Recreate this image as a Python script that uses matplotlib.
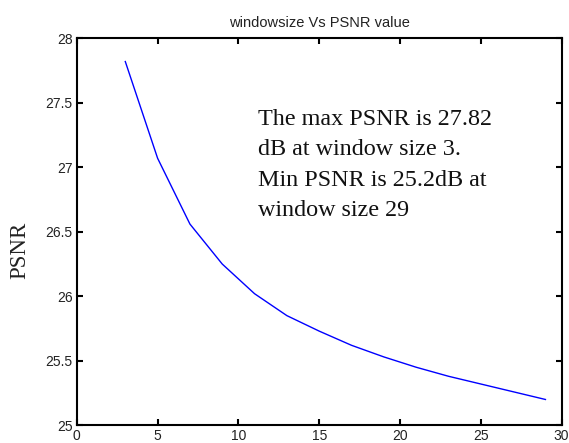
import numpy as np
import matplotlib
matplotlib.use("Agg")
import matplotlib.pyplot as plt

# window sizes and PSNR
window_size = [3, 5, 7, 9, 11, 13, 15, 17, 19, 21, 23, 25, 27, 29]
psnr = [27.82, 27.07, 26.56, 26.25, 26.02, 25.85, 25.73, 25.62, 25.53, 25.45, 25.38, 25.32, 25.26, 25.20]

x_ticks = [0, 5, 10, 15, 20, 25, 30]
y_ticks = [25, 25.5, 26, 26.5, 27, 27.5, 28]
y_tick_labels = ["25", "25.5", "26", "26.5", "27", "27.5", "28"]

note = ("The max PSNR is 27.82\n"
        "dB at window size 3.\n"
        "Min PSNR is 25.2dB at\n"
        "window size 29")

fig = plt.figure(figsize=(5.69, 4.43), dpi=100)
ax = fig.add_axes([0.135, 0.04, 0.852, 0.8735])

ax.plot(window_size, psnr, color="#0000ff", linewidth=1.0)

ax.set_xlim(0, 30)
ax.set_ylim(25, 28)
ax.set_xticks(x_ticks)
ax.set_yticks(y_ticks)
ax.set_yticklabels(y_tick_labels)

for side in ["left", "right", "top", "bottom"]:
    ax.spines[side].set_linewidth(1.5)
    ax.spines[side].set_color("black")

ax.tick_params(direction="in", length=4, width=1.5, top=True, right=True,
               labelsize=10, labelcolor="#222222", pad=3)
for lbl in ax.get_xticklabels() + ax.get_yticklabels():
    lbl.set_family("Liberation Sans")

ax.set_title("windowsize Vs PSNR value", fontsize=10.5, family="Liberation Sans",
             color="#222222", pad=8)
ax.set_ylabel("PSNR", fontsize=16.5, family="Liberation Serif", color="#222222")
ax.yaxis.set_label_coords(-0.096, 0.451)

ax.text(0.3744, 0.8186, note, transform=ax.transAxes, ha="left", va="top",
        fontsize=17.4, family="Liberation Serif", color="#111111", linespacing=1.6)

plt.savefig("out.png", dpi=100)
